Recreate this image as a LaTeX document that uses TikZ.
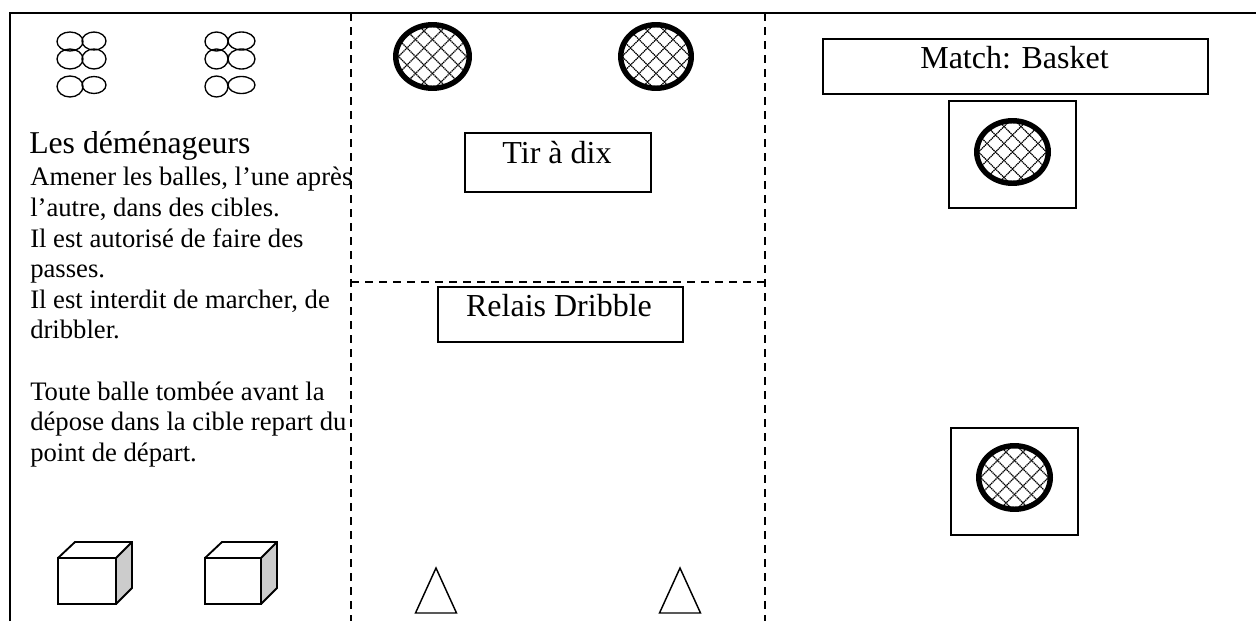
\documentclass[tikz,border=0pt]{standalone}
\usepackage{fontspec}
\setmainfont{Liberation Serif}
\tikzset{
  x=0.75pt,y=-0.75pt,
  frameline/.style={line width=1.5pt,black},
  dashline/.style={line width=1.1pt,dash pattern=on 6pt off 4.5pt},
  labelbox/.style={draw,line width=1.2pt,inner sep=0pt,anchor=north west},
  boxlabel/.style={font=\fontsize{24pt}{28pt}\selectfont,inner sep=0pt,anchor=base},
  balloutline/.style={line width=1pt},
  target/.style={line width=4.1pt},
  hatch/.style={line width=0.95pt,dash pattern=on 1pt off 0.5pt},
  cube/.style={line width=1.4pt,line join=miter},
  conetri/.style={line width=1.1pt,line join=miter},
  bigline/.style={font=\fontsize{23.8pt}{28pt}\selectfont,inner sep=0pt,anchor=base west},
  para/.style={font=\fontsize{20pt}{22.95pt}\selectfont,inner sep=0pt,anchor=north west,align=left}
}
\newcommand{\balls}[4]{% x, y, left half width, split offset
  \begin{scope}[shift={(#1,#2)},balloutline]
    \draw (#3,9.5) ellipse [x radius=#3,y radius=9.5];
    \draw (#4+25-#3,9) ellipse [x radius=25-#3,y radius=9];
    \draw (#3,27) ellipse [x radius=#3,y radius=10];
    \draw (#4+25-#3,27) ellipse [x radius=25-#3,y radius=10];
    \draw (#3,54.5) ellipse [x radius=#3,y radius=10.5];
    \draw (#4+25-#3,53) ellipse [x radius=25-#3,y radius=8.5];
  \end{scope}}
\newcommand{\cible}[4]{% cx, cy, rx, ry of the stroke centre line
  \begin{scope}[shift={(#1,#2)}]
    \begin{scope}
      \clip (0,0) ellipse [x radius=#3,y radius=#4];
      \foreach \k in {-102,-85,...,102}{
        \draw[hatch] (\k-60,-60) -- (\k+60,60);
        \draw[hatch] (\k-60,60) -- (\k+60,-60);
      }
    \end{scope}
    \draw[target] (0,0) ellipse [x radius=#3,y radius=#4];
  \end{scope}}
\newcommand{\caisse}[3]{%
  \begin{scope}[shift={(#1,#2)}]
    \fill[black!20] (#3,0) -- (#3+16,-16) -- (#3+16,30) -- (#3,46) -- cycle;
    \draw[cube] (0,0) rectangle (#3,46);
    \draw[cube] (0,0) -- (17,-16) -- (#3+16,-16) -- (#3+16,30) -- (#3,46);
    \draw[cube] (#3,0) -- (#3+16,-16);
  \end{scope}}
\newcommand{\conetri}[2]{%
  \draw[conetri] (#1,#2) -- (#1-20.5,#2+45) -- (#1+20.5,#2+45) -- cycle;}
\begin{document}
\begin{tikzpicture}
\useasboundingbox (0,0) rectangle (1256,621);
\coordinate (tl) at (10,12.5); \coordinate (tr) at (1256,12.5); \coordinate (bl) at (10,621);
\draw[frameline] (bl) -- (tl) -- (tr);
\coordinate (v1t) at (351,13); \coordinate (v1b) at (351,621);
\coordinate (v2t) at (765,13); \coordinate (v2b) at (765,621);
\coordinate (hl) at (351,282); \coordinate (hr) at (765,282);
\draw[dashline] (v1t) -- (v1b);
\draw[dashline] (v2t) -- (v2b);
\draw[dashline] (hl) -- (hr);

\balls{57}{32}{13}{25}
\balls{205}{32}{11.5}{23}

\node[bigline] (t1) at (29,153) {Les déménageurs};
\node[para] (t2) at (30,167) {Amener les balles, l’une après\\
l’autre, dans des cibles.\\
Il est autorisé de faire des\\
passes.\\
Il est interdit de marcher, de\\
dribbler.\\[22.95pt]
Toute balle tombée avant la\\
dépose dans la cible repart du\\
point de départ.};

\caisse{58}{558}{58}
\caisse{205}{558}{56}

\cible{432.5}{56.5}{36.75}{31.75}
\cible{656}{56.5}{35.25}{31.75}
\node[labelbox,minimum width=139.5pt,minimum height=44.25pt] (tir) at (464,132) {};
\node[boxlabel] (tirl) at (557,163) {Tir à dix};
\node[labelbox,minimum width=183.75pt,minimum height=41.25pt] (rel) at (437,286) {};
\node[boxlabel] (rell) at (559,316) {Relais Dribble};
\conetri{436}{568}
\conetri{680}{568}

\node[labelbox,minimum width=288.75pt,minimum height=41.25pt] (mat) at (822,38) {};
\node[boxlabel] (matl) at (1014.5,68) {Match: Basket};
\node[labelbox,minimum width=95.25pt,minimum height=80.25pt] (c1) at (948,100) {};
\cible{1012.5}{152}{35.75}{31.25}
\node[labelbox,minimum width=95.25pt,minimum height=80.25pt] (c2) at (950,427) {};
\cible{1014.5}{477.5}{35.75}{31.75}
\end{tikzpicture}
\end{document}
